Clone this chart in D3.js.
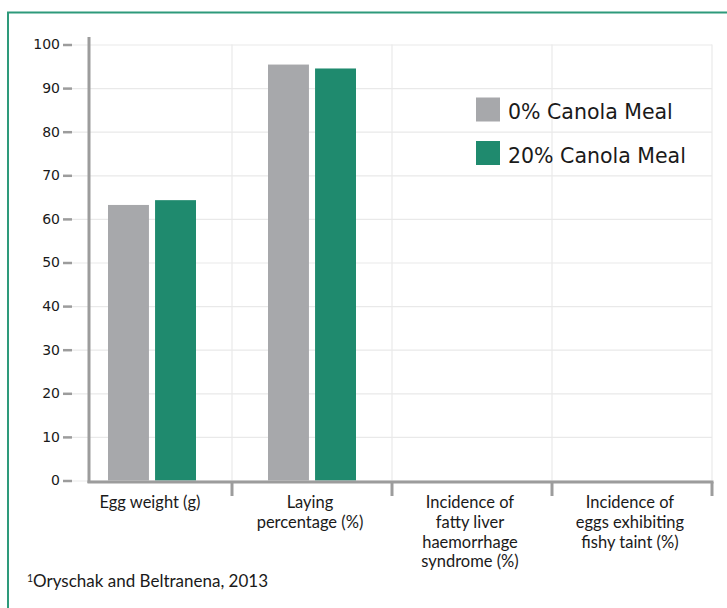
<!DOCTYPE html>
<html>
<head>
<meta charset="utf-8">
<script src="https://cdn.jsdelivr.net/npm/d3@7"></script>
<style>
  html, body { margin: 0; padding: 0; background: #fff; }
  svg { display: block; }
</style>
</head>
<body>
<script>
// Performance of laying hens fed 0% vs 20% canola meal
const categories = ["Egg weight (g)", "Laying percentage (%)", "Incidence of fatty liver haemorrhage syndrome (%)", "Incidence of eggs exhibiting fishy taint (%)"];
const categoryLines = [
  ["Egg weight (g)"],
  ["Laying", "percentage (%)"],
  ["Incidence of", "fatty liver", "haemorrhage", "syndrome (%)"],
  ["Incidence of", "eggs exhibiting", "fishy taint (%)"]
];
const seriesNames = ["0% Canola Meal", "20% Canola Meal"];
const canola0 = [63.2, 95.4, 0, 0];
const canola20 = [64.3, 94.5, 0, 0];
const yTicks = [0, 10, 20, 30, 40, 50, 60, 70, 80, 90, 100];
const footnote = "Oryschak and Beltranena, 2013";

const W = 727, H = 608;
const colors = ["#a7a8ab", "#1f8a6e"];
const axisGray = "#9c9c9c";
const gridGray = "#e9e9e9";
const labelFont = "Lato, 'Open Sans', sans-serif";
const numFont = "'DejaVu Sans', Verdana, sans-serif";

const svg = d3.select("body").append("svg")
  .attr("width", W).attr("height", H);

// frame
svg.append("path")
  .attr("d", "M8,608 V12.5 H727")
  .attr("fill", "none")
  .attr("stroke", "#2e9a7b")
  .attr("stroke-width", 2);

const x = d3.scaleBand().domain(categories).range([72, 712]).paddingInner(0).paddingOuter(0);
const y = d3.scaleLinear().domain([0, 100]).range([480.5, 44.5]);
const xs = d3.scaleBand().domain(seriesNames).range([0, 88]).paddingInner(0.13);

// horizontal grid
svg.append("g")
  .attr("transform", "translate(72,0)")
  .call(d3.axisLeft(y).tickValues(yTicks).tickSize(-(712 - 72)).tickFormat(""))
  .call(g => g.select(".domain").remove())
  .call(g => g.selectAll("line").attr("stroke", gridGray).attr("stroke-width", 1.2));

// vertical grid at category boundaries
svg.append("g").selectAll("line")
  .data(categories)
  .join("line")
  .attr("x1", d => x(d) + x.bandwidth())
  .attr("x2", d => x(d) + x.bandwidth())
  .attr("y1", y(100))
  .attr("y2", y(0))
  .attr("stroke", gridGray)
  .attr("stroke-width", 1.2);

// y axis ticks and labels
svg.append("g")
  .attr("transform", "translate(72,0)")
  .call(d3.axisLeft(y).tickValues(yTicks).tickSize(9).tickPadding(3))
  .call(g => g.select(".domain").remove())
  .call(g => g.selectAll("line").attr("stroke", axisGray).attr("stroke-width", 2.5))
  .call(g => g.selectAll("text")
    .attr("font-family", numFont)
    .attr("font-size", 14)
    .attr("fill", "#1a1a1a"));

// bars
const groups = svg.append("g").selectAll("g")
  .data(categories)
  .join("g")
  .attr("transform", d => `translate(${x(d) + x.bandwidth() / 2 - 44},0)`);

groups.selectAll("rect")
  .data((d, i) => [canola0[i], canola20[i]].map((v, k) => ({ v, k })))
  .join("rect")
  .attr("x", d => xs(seriesNames[d.k]))
  .attr("width", xs.bandwidth())
  .attr("y", d => y(d.v))
  .attr("height", d => y(0) - y(d.v))
  .attr("fill", d => colors[d.k]);

// y axis line
svg.append("line")
  .attr("x1", 89).attr("x2", 89)
  .attr("y1", 37).attr("y2", 483)
  .attr("stroke", axisGray).attr("stroke-width", 3);

// x axis line
svg.append("line")
  .attr("x1", 87.5).attr("x2", 713.5)
  .attr("y1", 482).attr("y2", 482)
  .attr("stroke", axisGray).attr("stroke-width", 3);

// x axis ticks at category boundaries
svg.append("g").selectAll("line")
  .data(categories)
  .join("line")
  .attr("x1", d => x(d) + x.bandwidth())
  .attr("x2", d => x(d) + x.bandwidth())
  .attr("y1", 482)
  .attr("y2", 496)
  .attr("stroke", axisGray)
  .attr("stroke-width", 3);

// category labels
const lab = svg.append("g").selectAll("text")
  .data(categories)
  .join("text")
  .attr("text-anchor", "middle")
  .attr("font-family", labelFont)
  .attr("font-size", 16.5)
  .attr("fill", "#1a1a1a");
lab.each(function (d, i) {
  const cx = x(d) + x.bandwidth() / 2 - 2;
  d3.select(this).selectAll("tspan")
    .data(categoryLines[i])
    .join("tspan")
    .attr("x", cx)
    .attr("y", (t, j) => 508 + j * 19.8)
    .text(t => t);
});

// legend
const legend = svg.append("g");
seriesNames.forEach((s, k) => {
  legend.append("rect")
    .attr("x", 476).attr("y", 97.5 + k * 43.5)
    .attr("width", 24).attr("height", 24)
    .attr("fill", colors[k]);
  legend.append("text")
    .attr("x", 508).attr("y", 118.5 + k * 44.5)
    .attr("font-family", numFont)
    .attr("font-size", 20.5)
    .attr("fill", "#1a1a1a")
    .text(s);
});

// source note
const fn = svg.append("text")
  .attr("x", 27).attr("y", 587)
  .attr("font-family", labelFont)
  .attr("font-size", 17)
  .attr("fill", "#1a1a1a");
fn.append("tspan").attr("font-size", 10.5).attr("dy", -5.5).text("1");
fn.append("tspan").attr("dy", 5.5).text(footnote);
</script>
</body>
</html>
